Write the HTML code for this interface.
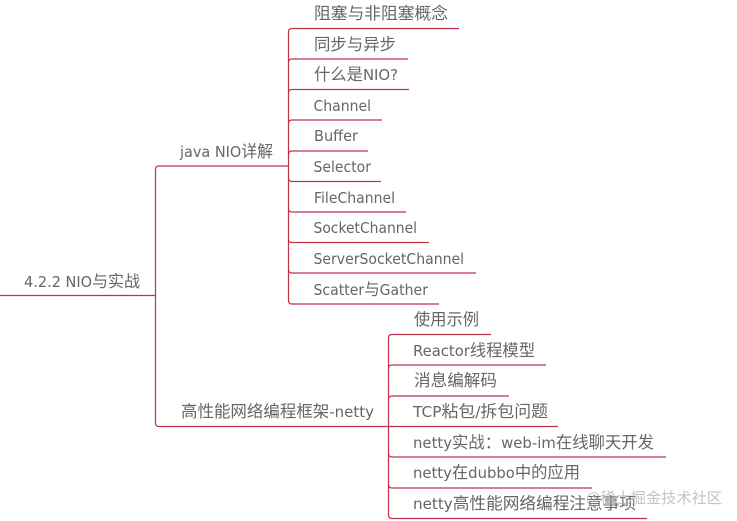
<!DOCTYPE html>
<html>
<head>
<meta charset="utf-8">
<style>
html,body{margin:0;padding:0;background:#fff;width:737px;height:521px;overflow:hidden}
svg{display:block}
text{font-family:"DejaVu Sans","Noto Sans CJK SC",sans-serif;font-size:15px;fill:#666}
tspan{font-family:"Noto Sans CJK SC",sans-serif;font-size:16.5px}
.l{fill:none;stroke:#c03048;stroke-width:1.2}
</style>
</head>
<body>
<svg width="737" height="521" viewBox="0 0 737 521">
<defs><filter id="b" x="-2%" y="-2%" width="104%" height="104%"><feGaussianBlur stdDeviation="0.35"/></filter></defs>
<g filter="url(#b)">
<path class="l" d="M0 295.5H155.5M155.5 295.5V169.5Q155.5 166 159 166H288.5"/>
<path class="l" d="M155.5 295.5V423Q155.5 426.5 159 426.5H558"/>
<path class="l" d="M459 28.5H292Q288.5 28.5 288.5 32V300.5Q288.5 304 292 304H439"/>
<path class="l" d="M288.5 62.5Q288.5 59 292 59H408"/>
<path class="l" d="M288.5 93Q288.5 89.5 292 89.5H409"/>
<path class="l" d="M288.5 123.5Q288.5 120 292 120H382"/>
<path class="l" d="M288.5 154.5Q288.5 151 292 151H368"/>
<path class="l" d="M288.5 178Q288.5 181.5 292 181.5H381"/>
<path class="l" d="M288.5 208.5Q288.5 212 292 212H406"/>
<path class="l" d="M288.5 239Q288.5 242.5 292 242.5H429"/>
<path class="l" d="M288.5 269.5Q288.5 273 292 273H476"/>
<path class="l" d="M491 334.5H392Q388.5 334.5 388.5 338V515Q388.5 518.5 392 518.5H647"/>
<path class="l" d="M388.5 368.5Q388.5 365 392 365H546"/>
<path class="l" d="M388.5 399.5Q388.5 396 392 396H509"/>
<path class="l" d="M388.5 453.5Q388.5 457 392 457H666"/>
<path class="l" d="M388.5 484.5Q388.5 488 392 488H592"/>

<text x="24" y="287" textLength="116" lengthAdjust="spacingAndGlyphs">4.2.2 NIO<tspan>与实战</tspan></text>
<text x="180" y="157" textLength="93" lengthAdjust="spacingAndGlyphs">java NIO<tspan>详解</tspan></text>
<text x="181" y="417" textLength="193" lengthAdjust="spacingAndGlyphs"><tspan>高性能网络编程框架</tspan>-netty</text>

<text x="314" y="19" textLength="134" lengthAdjust="spacingAndGlyphs"><tspan>阻塞与非阻塞概念</tspan></text>
<text x="314" y="50" textLength="82" lengthAdjust="spacingAndGlyphs"><tspan>同步与异步</tspan></text>
<text x="314" y="80" textLength="84" lengthAdjust="spacingAndGlyphs"><tspan>什么是</tspan>NIO?</text>
<text x="313.5" y="111" textLength="57.5" lengthAdjust="spacingAndGlyphs">Channel</text>
<text x="314" y="141" textLength="44" lengthAdjust="spacingAndGlyphs">Buffer</text>
<text x="313.5" y="172" textLength="57.5" lengthAdjust="spacingAndGlyphs">Selector</text>
<text x="314" y="203" textLength="81" lengthAdjust="spacingAndGlyphs">FileChannel</text>
<text x="313.5" y="233" textLength="103.5" lengthAdjust="spacingAndGlyphs">SocketChannel</text>
<text x="313.5" y="264" textLength="150.5" lengthAdjust="spacingAndGlyphs">ServerSocketChannel</text>
<text x="313.5" y="295" textLength="114.5" lengthAdjust="spacingAndGlyphs">Scatter<tspan>与</tspan>Gather</text>

<text x="414" y="325" textLength="65" lengthAdjust="spacingAndGlyphs"><tspan>使用示例</tspan></text>
<text x="413" y="356" textLength="122" lengthAdjust="spacingAndGlyphs">Reactor<tspan>线程模型</tspan></text>
<text x="414" y="386" textLength="83" lengthAdjust="spacingAndGlyphs"><tspan>消息编解码</tspan></text>
<text x="413" y="417" textLength="135" lengthAdjust="spacingAndGlyphs">TCP<tspan>粘包</tspan>/<tspan>拆包问题</tspan></text>
<text x="413" y="448" textLength="241" lengthAdjust="spacingAndGlyphs">netty<tspan>实战：</tspan>web-im<tspan>在线聊天开发</tspan></text>
<text x="413" y="478" textLength="167" lengthAdjust="spacingAndGlyphs">netty<tspan>在</tspan>dubbo<tspan>中的应用</tspan></text>
<text x="413" y="509" textLength="223" lengthAdjust="spacingAndGlyphs">netty<tspan>高性能网络编程注意事项</tspan></text>

<text x="586" y="503" textLength="136" lengthAdjust="spacingAndGlyphs" style="fill:#aaa;font-size:15px;opacity:.7;font-family:'Noto Sans CJK SC',sans-serif">@稀土掘金技术社区</text>
</g>
</svg>
</body>
</html>
